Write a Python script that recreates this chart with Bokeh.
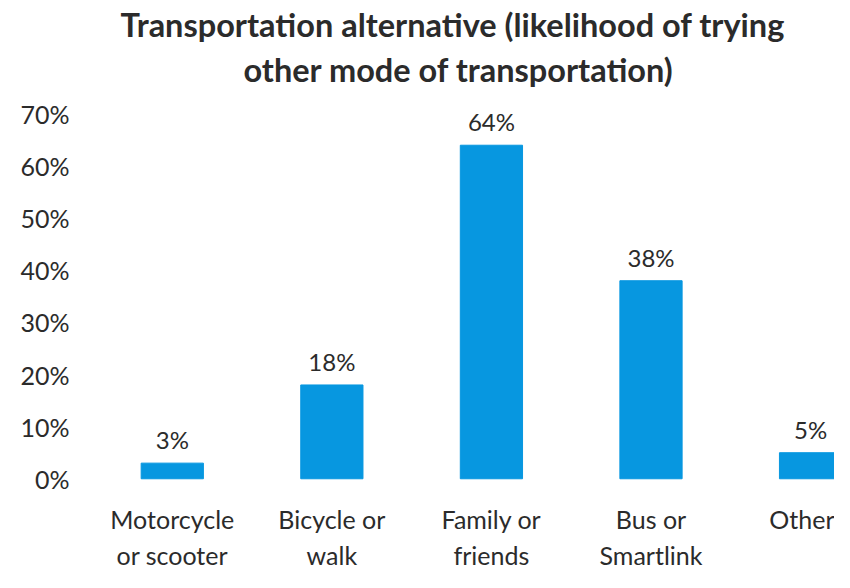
from bokeh.plotting import figure
from bokeh.models import ColumnDataSource, Range1d, FixedTicker, NumeralTickFormatter, Title
from bokeh.core.properties import value
from bokeh.embed import file_html
from bokeh.resources import INLINE

title_lines = ["Transportation alternative (likelihood of trying", "other mode of transportation)"]
categories = ["Motorcycle\nor scooter", "Bicycle or\nwalk", "Family or\nfriends", "Bus or\nSmartlink", "Other"]
values = [0.03, 0.18, 0.64, 0.38, 0.05]
value_labels = ["3%", "18%", "64%", "38%", "5%"]
y_ticks = [0.0, 0.1, 0.2, 0.3, 0.4, 0.5, 0.6, 0.7]

xs = list(range(1, len(categories) + 1))
source = ColumnDataSource(data=dict(x=xs, top=values, label=value_labels))

FONT = "Lato"
TXT = "#2b2b2b"
BAR = "#0797E0"

p = figure(width=834, height=572, output_backend="svg", toolbar_location=None,
           x_range=Range1d(0.5, 5.15), y_range=Range1d(-0.011, 0.745),
           min_border_left=92, min_border_right=0, min_border_bottom=0, min_border_top=0)
p.title = None
# later-added titles sit farther from the plot frame; offsets place each line's left edge
title_offsets = [28, 151]
for line, off in reversed(list(zip(title_lines, title_offsets))):
    p.add_layout(Title(text=line, align="left", offset=off, text_font=FONT, text_font_size="32.5px",
                       text_font_style="bold", text_color=TXT, standoff=4), "above")

p.vbar(x="x", top="top", bottom=0, width=0.39, source=source, color=BAR)
p.text(x="x", y="top", text="label", source=source, text_align="center", text_baseline="bottom",
       y_offset=-9, text_font=value(FONT), text_font_size="24px", text_color=TXT)

p.xaxis.ticker = FixedTicker(ticks=xs)
p.xaxis.major_label_overrides = {x: c for x, c in zip(xs, categories)}
p.yaxis.ticker = FixedTicker(ticks=y_ticks)
p.yaxis.formatter = NumeralTickFormatter(format="0%")

for ax in (p.xaxis, p.yaxis):
    ax.axis_line_color = None
    ax.major_tick_line_color = None
    ax.minor_tick_line_color = None
    ax.major_label_text_font = FONT
    ax.major_label_text_color = TXT
p.yaxis.major_label_text_font_size = "25px"
p.yaxis.major_label_standoff = 17
p.xaxis.major_label_text_font_size = "25px"
p.xaxis.major_label_standoff = 13
p.xgrid.grid_line_color = None
p.ygrid.grid_line_color = None
p.outline_line_color = None

open("out.html", "w").write(file_html(p, INLINE))
